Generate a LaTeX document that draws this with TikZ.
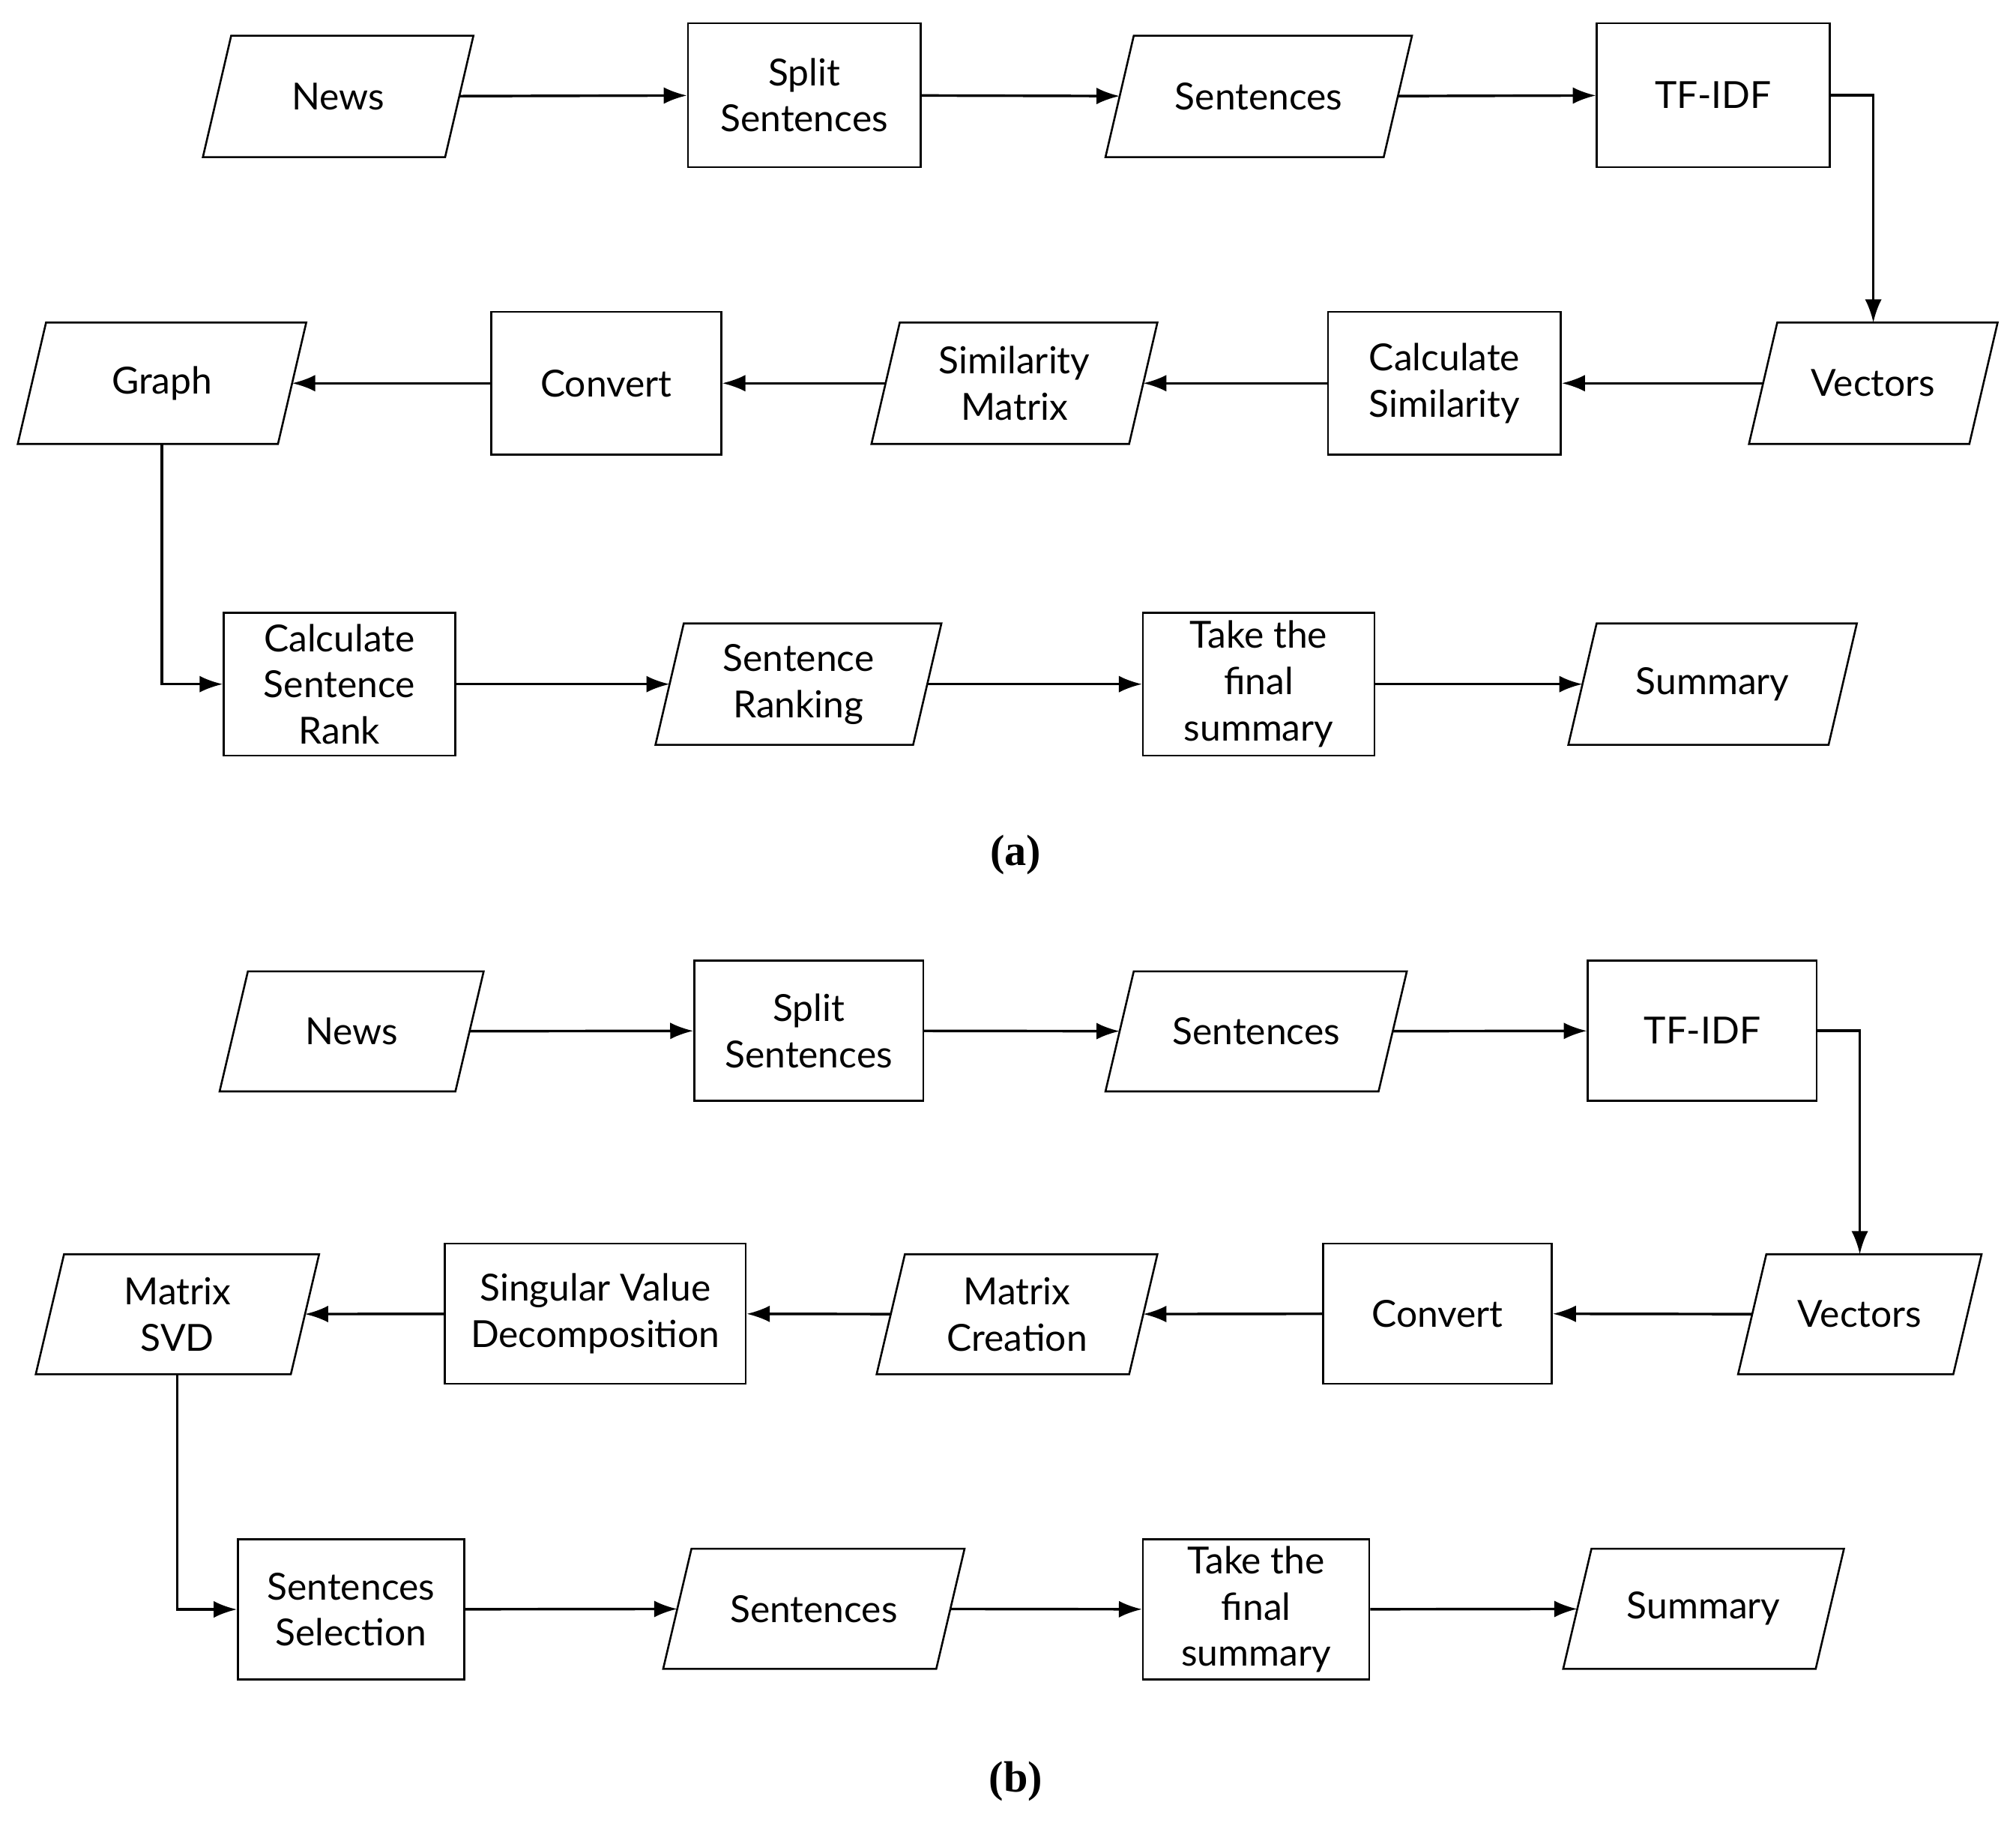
\documentclass[tikz,border=0pt]{standalone}
\usepackage{fontspec}
\setmainfont{Lato}
\newfontfamily\capfont{Liberation Serif}
\usetikzlibrary{arrows.meta}
\begin{document}
\begin{tikzpicture}[x=1pt,y=-1pt,
  base/.style={align=center,font=\fontsize{29}{36}\selectfont,inner sep=0pt},
  box/.style={base,draw,line width=1.5pt},
  para/.style={base,minimum height=94pt},
  arr/.style={line width=2pt,-{Latex[length=18pt,width=13pt]}},
  figcap/.style={font=\capfont\bfseries\fontsize{34}{40}\selectfont}]
\useasboundingbox (0,0) rectangle (1568,1422);
\fill[white] (0,0) rectangle (1568,1422);
% (a)
\node[para,minimum width=188pt] (newsA) at (263,75) {News};
\node[box,minimum width=181pt,minimum height=112pt] (splitA) at (625.5,74) {Split\\Sentences};
\node[para,minimum width=216pt] (sentA) at (979,75) {Sentences};
\node[box,minimum width=181pt,minimum height=112pt] (tfidfA) at (1332.5,74) {TF-IDF};
\node[para,minimum width=171pt] (vecA) at (1457,298) {Vectors};
\node[box,minimum width=181pt,minimum height=111pt] (calcA) at (1123.5,298) {Calculate\\Similarity};
\node[para,minimum width=200pt] (simA) at (789,298) {Similarity\\Matrix};
\node[box,minimum width=179pt,minimum height=111pt] (convA) at (471.5,298) {Convert};
\node[para,minimum width=202pt] (graphA) at (126,298) {Graph};
\node[box,minimum width=180pt,minimum height=111pt] (csrA) at (264,532) {Calculate\\Sentence\\Rank};
\node[para,minimum width=200pt] (rankA) at (621,532) {Sentence\\Ranking};
\node[box,minimum width=180pt,minimum height=111pt] (takeA) at (979,532) {Take the\\final\\summary};
\node[para,minimum width=202pt] (sumA) at (1332,532) {Summary};
\node[figcap] (capA) at (790,665) {(a)};
% (b)
\node[para,minimum width=183pt,minimum height=93pt] (newsB) at (273.5,802) {News};
\node[box,minimum width=178pt,minimum height=109pt] (splitB) at (629,801.5) {Split\\Sentences};
\node[para,minimum width=212pt,minimum height=93pt] (sentB) at (977,802) {Sentences};
\node[box,minimum width=178pt,minimum height=109pt] (tfidfB) at (1324,801.5) {TF-IDF};
\node[para,minimum width=167pt,minimum height=93pt] (vecB) at (1446.5,1022) {Vectors};
\node[box,minimum width=178pt,minimum height=109pt] (convB) at (1118,1021.5) {Convert};
\node[para,minimum width=196pt,minimum height=93pt] (mcB) at (791,1022) {Matrix\\Creation};
\node[box,minimum width=234pt,minimum height=109pt] (svdB) at (463,1021.5) {Singular Value\\Decomposition};
\node[para,minimum width=198pt,minimum height=93pt] (msvdB) at (138,1022) {Matrix\\SVD};
\node[box,minimum width=176pt,minimum height=109pt] (ssB) at (273,1251.5) {Sentences\\Selection};
\node[para,minimum width=212pt,minimum height=93pt] (sent2B) at (633,1251) {Sentences};
\node[box,minimum width=176pt,minimum height=109pt] (takeB) at (977,1251.5) {Take the\\final\\summary};
\node[para,minimum width=196pt,minimum height=93pt] (sumB) at (1325,1251) {Summary};
\node[figcap] (capB) at (790,1385) {(b)};
% parallelogram outlines
\foreach \n in {newsA,sentA,vecA,simA,graphA,rankA,sumA,newsB,sentB,vecB,mcB,msvdB,sent2B,sumB}
  \draw[line width=1.5pt] ([xshift=11pt]\n.north west) -- ([xshift=11pt]\n.north east)
     -- ([xshift=-11pt]\n.south east) -- ([xshift=-11pt]\n.south west) -- cycle;
% arrows (a)
\draw[arr] (newsA) -- (splitA);
\draw[arr] (splitA) -- (sentA);
\draw[arr] (sentA) -- (tfidfA);
\draw[arr] (tfidfA.east) -| (vecA.north);
\draw[arr] (vecA) -- (calcA);
\draw[arr] (calcA) -- (simA);
\draw[arr] (simA) -- (convA);
\draw[arr] (convA) -- (graphA);
\draw[arr] (graphA.south) |- (csrA.west);
\draw[arr] (csrA) -- (rankA);
\draw[arr] (rankA) -- (takeA);
\draw[arr] (takeA) -- (sumA);
% arrows (b)
\draw[arr] (newsB) -- (splitB);
\draw[arr] (splitB) -- (sentB);
\draw[arr] (sentB) -- (tfidfB);
\draw[arr] (tfidfB.east) -| (vecB.north);
\draw[arr] (vecB) -- (convB);
\draw[arr] (convB) -- (mcB);
\draw[arr] (mcB) -- (svdB);
\draw[arr] (svdB) -- (msvdB);
\draw[arr] (msvdB.south) |- (ssB.west);
\draw[arr] (ssB) -- (sent2B);
\draw[arr] (sent2B) -- (takeB);
\draw[arr] (takeB) -- (sumB);
\end{tikzpicture}
\end{document}
